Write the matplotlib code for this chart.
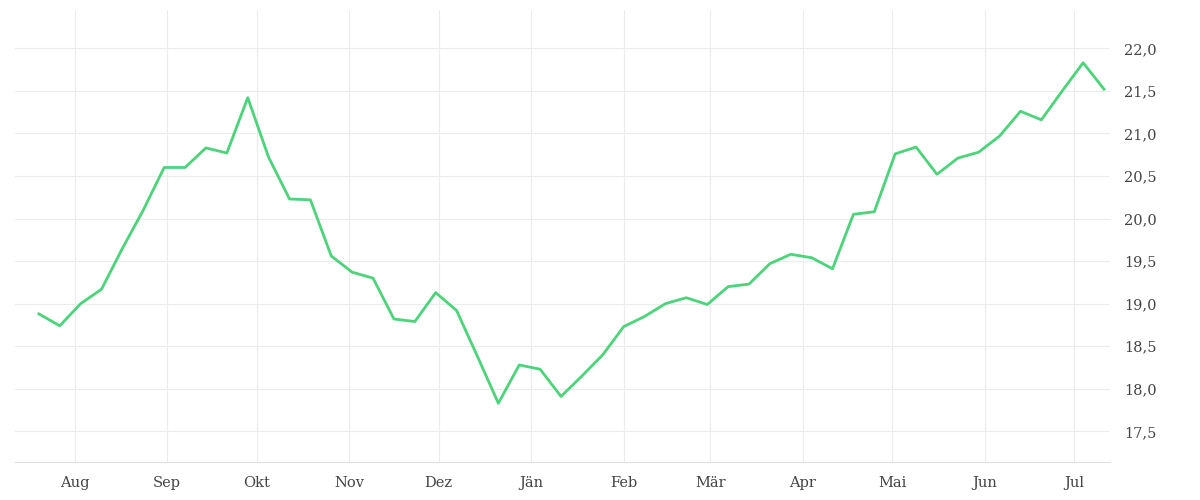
import matplotlib
matplotlib.use("Agg")
import matplotlib.pyplot as plt
import pandas as pd

dates = pd.date_range("2023-07-20", periods=52, freq="7D")
values = [18.88, 18.74, 19.0, 19.17, 19.65, 20.1, 20.6, 20.6, 20.83, 20.77, 21.42, 20.72,
          20.23, 20.22, 19.56, 19.37, 19.3, 18.82, 18.79, 19.13, 18.92, 18.38, 17.83, 18.28,
          18.23, 17.91, 18.15, 18.4, 18.73, 18.85, 19.0, 19.07, 18.99, 19.2, 19.23, 19.47,
          19.58, 19.54, 19.41, 20.05, 20.08, 20.76, 20.84, 20.52, 20.71, 20.78, 20.97, 21.26,
          21.16, 21.5, 21.83, 21.52]
month_labels = ["Aug", "Sep", "Okt", "Nov", "Dez", "Jän", "Feb", "Mär", "Apr", "Mai", "Jun", "Jul"]
month_starts = pd.date_range("2023-08-01", periods=12, freq="MS")
yticks = [17.5, 18.0, 18.5, 19.0, 19.5, 20.0, 20.5, 21.0, 21.5, 22.0]

fig = plt.figure(figsize=(12, 5), dpi=100)
ax = fig.add_axes([15/1200, 1-462/500, 1095/1200, 452/500])
ax.plot(dates, values, color="#4cd47a", lw=2.0)
ax.set_xlim(pd.Timestamp("2023-07-12"), pd.Timestamp("2024-07-13"))
ax.set_ylim(17.14, 22.45)
ax.set_xticks(month_starts)
ax.set_xticklabels(month_labels)
ax.set_yticks(yticks)
ax.set_yticklabels([f"{v:.1f}".replace(".", ",") for v in yticks])
ax.yaxis.tick_right()
ax.grid(True, color="#ececec", lw=0.8)
for s in ax.spines.values():
    s.set_visible(False)
ax.spines["bottom"].set_visible(True)
ax.spines["bottom"].set_color("#e0e0e0")
ax.tick_params(length=0, labelsize=10.5, labelcolor="#444444", pad=10)
for lab in ax.get_xticklabels() + ax.get_yticklabels():
    lab.set_family("DejaVu Serif")
fig.savefig("out.png")
